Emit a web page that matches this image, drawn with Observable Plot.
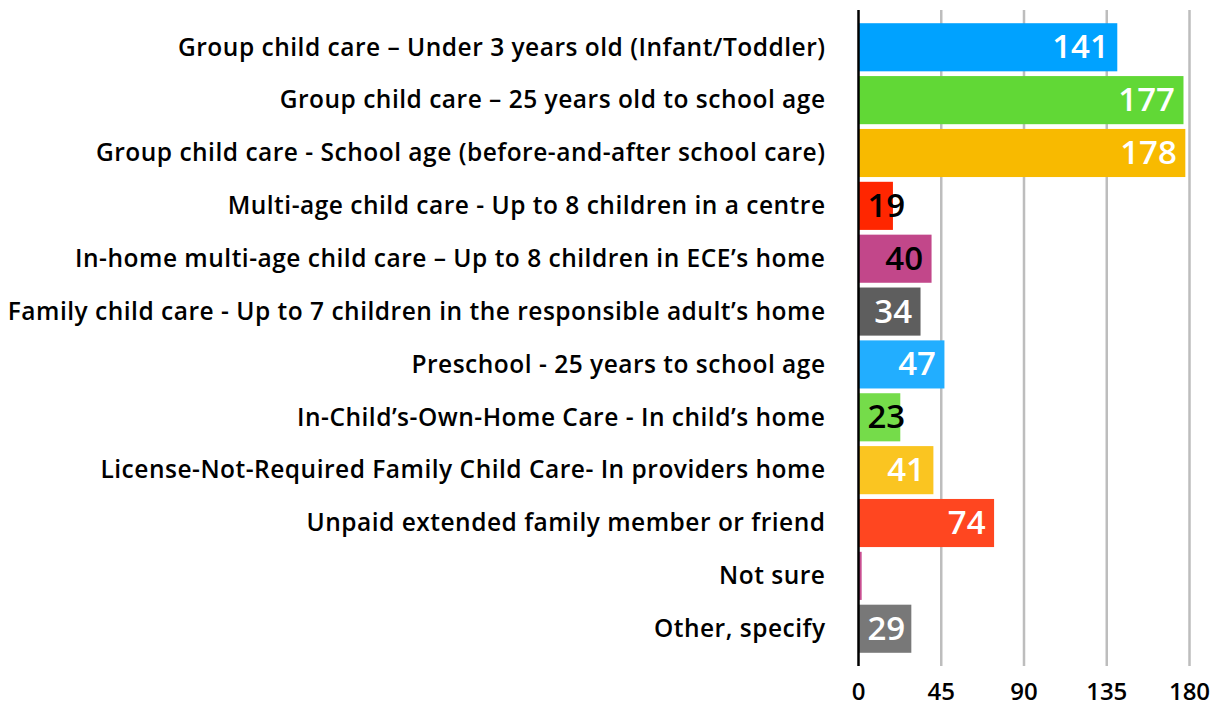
<!DOCTYPE html>
<html><head><meta charset="utf-8">
<script src="https://cdn.jsdelivr.net/npm/d3@7"></script>
<script src="https://cdn.jsdelivr.net/npm/@observablehq/plot@0.6"></script>
<style>
body{margin:0;background:#fff;}
g[aria-label="y-axis tick label"] text{letter-spacing:0.5px;}
</style>
</head><body><div id="chart"></div>
<script>
const categories = [
  "Group child care – Under 3 years old (Infant/Toddler)",
  "Group child care – 25 years old to school age",
  "Group child care - School age (before-and-after school care)",
  "Multi-age child care - Up to 8 children in a centre",
  "In-home multi-age child care – Up to 8 children in ECE’s home",
  "Family child care - Up to 7 children in the responsible adult’s home",
  "Preschool - 25 years to school age",
  "In-Child’s-Own-Home Care - In child’s home",
  "License-Not-Required Family Child Care- In providers home",
  "Unpaid extended family member or friend",
  "Not sure",
  "Other, specify"
];
const values = [141, 177, 178, 19, 40, 34, 47, 23, 41, 74, 2, 29];
const barColors = ["#00A2FF","#61D836","#F8BA00","#FF2600","#C2478A","#5E5E5E","#22AEFF","#75DC4A","#FAC521","#FF4620","#C94F91","#787878"];
const labelColors = ["white","white","white","black","black","white","white","black","white","white","white","white"];
const xTicks = [0, 45, 90, 135, 180];

const data = categories.map((c, i) => ({category: c, value: values[i], color: barColors[i], labelColor: labelColors[i]}));

const font = "'Open Sans', 'Noto Sans', sans-serif";
const chart = Plot.plot({
  width: 1223, height: 706,
  marginLeft: 858, marginRight: 34, marginTop: 10, marginBottom: 40,
  style: {fontFamily: font, fontWeight: 600, color: "black", background: "white"},
  x: {domain: [0, 180], label: null},
  y: {domain: categories, paddingInner: 0.09, paddingOuter: 0.25, round: false, label: null},
  color: {type: "identity"},
  marks: [
    Plot.gridX(xTicks.filter(t => t > 0), {stroke: "#bdbdbd", strokeWidth: 2.5, strokeOpacity: 1}),
    Plot.barX(data, {x: "value", y: "category", fill: "color"}),
    Plot.ruleX([0], {stroke: "black", strokeWidth: 2.5}),
    Plot.axisX({ticks: xTicks, tickSize: 0, tickPadding: 16, fontSize: 24, fontWeight: 600, label: null}),
    Plot.axisY({tickSize: 0, tickPadding: 33, fontSize: 24.5, fontWeight: 600, label: null}),
    Plot.text(data.filter(d => d.value >= 30), {x: "value", y: "category", text: d => String(d.value), textAnchor: "end", dx: -9, fill: "labelColor", fontSize: 33, fontWeight: 600}),
    Plot.text(data.filter(d => d.value < 30 && d.value >= 5), {x: 0, y: "category", text: d => String(d.value), textAnchor: "start", dx: 9, fill: "labelColor", fontSize: 33, fontWeight: 600})
  ]
});
document.getElementById("chart").appendChild(chart);
</script>
</body></html>
